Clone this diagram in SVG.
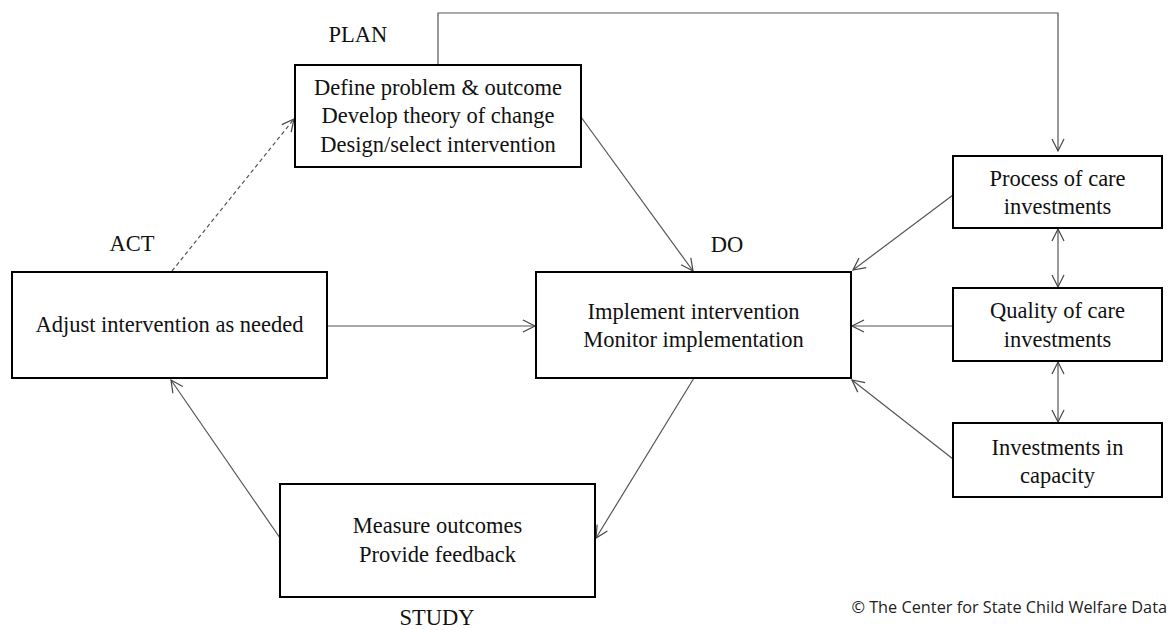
<svg xmlns="http://www.w3.org/2000/svg" width="1172" height="630" viewBox="0 0 1172 630">
<style>
.box{fill:#fff;stroke:#000;stroke-width:2}
.t{font-family:"Liberation Serif","Times New Roman",serif;font-size:22.5px;fill:#111;text-anchor:middle}
.c{fill:none;stroke:#555;stroke-width:1.2}
.d{stroke-dasharray:4 3}
.cp{font-family:"Open Sans","Liberation Sans",sans-serif;font-size:16.3px;fill:#222;text-anchor:end}
</style>
<defs>
<marker id="ah" markerUnits="userSpaceOnUse" markerWidth="16" markerHeight="16" viewBox="-14 -8 16 16" refX="0" refY="0" orient="auto-start-reverse">
<path d="M-12,-6 L0,0 L-12,6" fill="none" stroke="#444" stroke-width="1.2"/>
</marker>
</defs>
<rect width="1172" height="630" fill="#fff"/>
<g id="connectors">
<path class="c" d="M438,64 V13 H1058 V151" marker-end="url(#ah)"/>
<path class="c" d="M581,117 L693,271" marker-end="url(#ah)"/>
<path class="c" d="M327,326 H535" marker-end="url(#ah)"/>
<path class="c" d="M694,378 L596,538" marker-end="url(#ah)"/>
<path class="c" d="M280,538 L171,380" marker-end="url(#ah)"/>
<path class="c d" d="M172,271 L294,119" marker-end="url(#ah)"/>
<path class="c" d="M953,195 L853,270" marker-end="url(#ah)"/>
<path class="c" d="M953,326 L852,326" marker-end="url(#ah)"/>
<path class="c" d="M953,459 L852,380" marker-end="url(#ah)"/>
<path class="c" d="M1058,229 V287" marker-start="url(#ah)" marker-end="url(#ah)"/>
<path class="c" d="M1058,362 V422" marker-start="url(#ah)" marker-end="url(#ah)"/>
</g>
<g id="plan">
<rect class="box" x="295" y="65" width="286" height="102"/>
<text class="t" x="438" y="95">Define problem &amp; outcome</text>
<text class="t" x="438" y="123">Develop theory of change</text>
<text class="t" x="438" y="152">Design/select intervention</text>
</g>
<g id="do">
<rect class="box" x="536" y="272" width="315" height="106"/>
<text class="t" x="693.5" y="319">Implement intervention</text>
<text class="t" x="693.5" y="347">Monitor implementation</text>
</g>
<g id="act">
<rect class="box" x="12" y="272" width="315" height="106"/>
<text class="t" x="169.5" y="332">Adjust intervention as needed</text>
</g>
<g id="study">
<rect class="box" x="280" y="484" width="315" height="113"/>
<text class="t" x="437.5" y="533">Measure outcomes</text>
<text class="t" x="437.5" y="562">Provide feedback</text>
</g>
<g id="process">
<rect class="box" x="953" y="156" width="209" height="72"/>
<text class="t" x="1057.5" y="186">Process of care</text>
<text class="t" x="1057.5" y="214">investments</text>
</g>
<g id="quality">
<rect class="box" x="953" y="288" width="209" height="73"/>
<text class="t" x="1057.5" y="318">Quality of care</text>
<text class="t" x="1057.5" y="347">investments</text>
</g>
<g id="investments">
<rect class="box" x="953" y="423" width="209" height="74"/>
<text class="t" x="1057.5" y="455">Investments in</text>
<text class="t" x="1057.5" y="483">capacity</text>
</g>
<g id="labels">
<text class="t" x="358" y="42">PLAN</text>
<text class="t" x="132" y="251">ACT</text>
<text class="t" x="727" y="252">DO</text>
<text class="t" x="437" y="625">STUDY</text>
<text class="cp" x="1167" y="613">© The Center for State Child Welfare Data</text>
</g>
</svg>
